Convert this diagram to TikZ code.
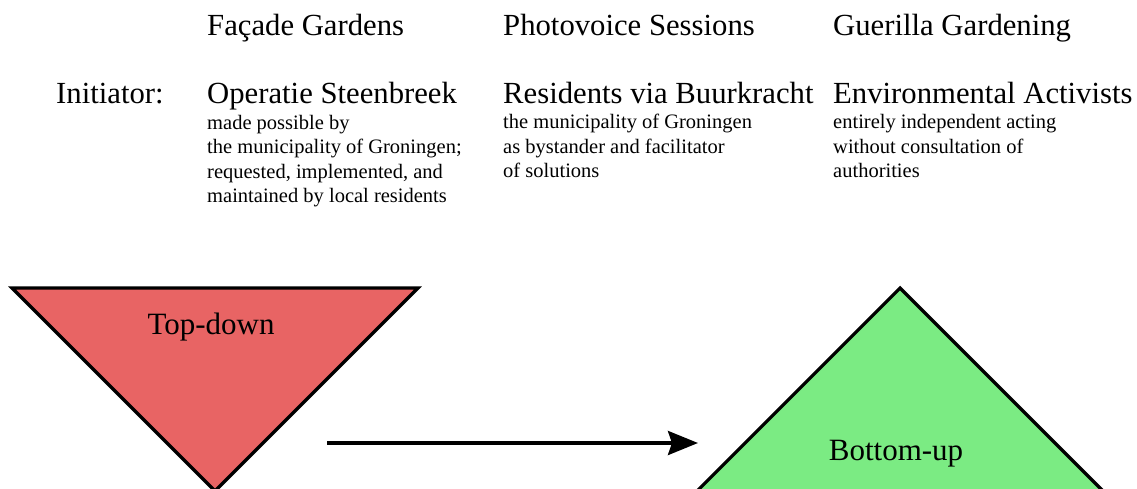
\documentclass[tikz,border=0pt]{standalone}
\usepackage{fontspec}
\setmainfont{Liberation Serif}
\usetikzlibrary{arrows.meta}
\definecolor{redfill}{HTML}{E86464}
\definecolor{greenfill}{HTML}{7BEB83}
\tikzset{
  big/.style={font=\fontsize{30.7}{36}\selectfont, inner sep=0pt, anchor=base west},
  small/.style={font=\fontsize{20.5}{24.5}\selectfont, inner sep=0pt, anchor=base west, align=left},
  tri/.style={draw=black, line width=3.2pt, line join=miter},
  label/.style={font=\fontsize{31}{36}\selectfont, inner sep=0pt, anchor=base},
  flow/.style={line width=3.6pt, -{Stealth[length=30pt,width=24pt,inset=4pt]}}
}
\begin{document}
\begin{tikzpicture}[x=1pt,y=-1pt]
\useasboundingbox (0,0) rectangle (1137,489);
\clip (0,0) rectangle (1137,489);
% headings
\node[big] (h1) at (207,36) {Façade Gardens};
\node[big] (h2) at (503,36) {Photovoice Sessions};
\node[big] (h3) at (833,36) {Guerilla Gardening};
% initiator row
\node[big] (init) at (56,104) {Initiator:};
\node[big] (i1) at (207,104) {Operatie Steenbreek};
\node[big] (i2) at (503,104) {Residents via Buurkracht};
\node[big] (i3) at (833,104) {Environmental Activists};
% descriptions (anchored at the baseline of their last line)
\node[small] (d1) at (207,202.5) {made possible by\\the municipality of Groningen;\\requested, implemented, and\\maintained by local residents};
\node[small] (d2) at (503,178) {the municipality of Groningen\\as bystander and facilitator\\of solutions};
\node[small] (d3) at (833,178) {entirely independent acting\\without consultation of\\authorities};
% triangles
\coordinate (r1) at (12,288);
\coordinate (r2) at (418,288);
\coordinate (r3) at (215,491);
\filldraw[tri, fill=redfill] (r1) -- (r2) -- (r3) -- cycle;
\coordinate (g1) at (900,288);
\coordinate (g2) at (1160,548);
\coordinate (g3) at (640,548);
\filldraw[tri, fill=greenfill] (g1) -- (g2) -- (g3) -- cycle;
\node[label] (td) at (211,334) {Top-down};
\node[label] (bu) at (896,460) {Bottom-up};
% arrow
\coordinate (a1) at (327,443);
\coordinate (a2) at (698,443);
\draw[flow] (a1) -- (a2);
\end{tikzpicture}
\end{document}
